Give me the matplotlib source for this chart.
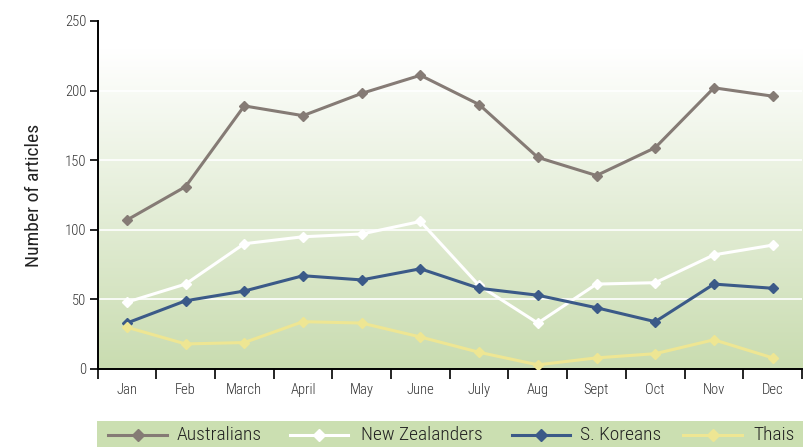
import numpy as np
import matplotlib
matplotlib.use("Agg")
import matplotlib.pyplot as plt
from matplotlib.patches import Rectangle
from matplotlib.lines import Line2D
from matplotlib import font_manager

months = ["Jan", "Feb", "March", "April", "May", "June", "July", "Aug", "Sept", "Oct", "Nov", "Dec"]
australians = [107, 131, 189, 182, 198, 211, 190, 152, 139, 159, 202, 196]
new_zealanders = [48, 61, 90, 95, 97, 106, 60, 33, 61, 62, 82, 89]
s_koreans = [33, 49, 56, 67, 64, 72, 58, 53, 44, 34, 61, 58]
thais = [30, 18, 19, 34, 33, 23, 12, 3, 8, 11, 21, 8]

series_names = ["Australians", "New Zealanders", "S. Koreans", "Thais"]
series_colors = ["#857b75", "#ffffff", "#3b5a88", "#eee693"]

# pick a condensed sans face if one is installed
names = {f.name for f in font_manager.fontManager.ttflist}
candidates = ["Roboto Condensed", "Archivo Narrow", "PT Sans Narrow", "Liberation Sans Narrow",
              "Fira Sans Condensed", "IBM Plex Sans Condensed", "Barlow Semi Condensed",
              "Encode Sans Condensed", "Asap Condensed", "Open Sans Condensed"]
family = [c for c in candidates if c in names][:1] or ["DejaVu Sans"]
plt.rcParams["font.family"] = family + ["DejaVu Sans"]
plt.rcParams["font.weight"] = "light"

W, H = 807, 447
fig = plt.figure(figsize=(W / 100, H / 100), dpi=100)
ax = fig.add_axes([97.5 / W, 1 - 369 / H, (802 - 97.5) / W, (369 - 21) / H])

# vertical white-to-green background
grad = np.linspace(0, 1, 256).reshape(-1, 1)
top = np.array([1.0, 1.0, 1.0])
bottom = np.array([0xc9, 0xdc, 0xb0]) / 255
curve = np.clip((grad - 0.08) / 0.92, 0, 1)
img = top + (bottom - top) * curve[..., None]
ax.imshow(img, extent=[0, 12, 0, 250], aspect="auto", origin="upper", zorder=0)

for v in [50, 100, 150, 200]:
    ax.axhline(v, color="white", lw=1.2, zorder=1)

x = np.arange(len(months)) + 0.5
all_series = [australians, new_zealanders, s_koreans, thais]
for vals, name, col in zip(all_series, series_names, series_colors):
    ax.plot(x, vals, color=col, lw=2.2, marker="D", ms=5, mec=col, mfc=col, label=name, zorder=3)

ax.set_xlim(0, 12)
ax.set_ylim(0, 250)
ax.set_yticks([0, 50, 100, 150, 200, 250])
ax.set_xticks(np.arange(13))
ax.set_xticklabels([])
ax.set_xticks(x, minor=True)
ax.set_xticklabels(months, minor=True)
ax.tick_params(axis="x", which="minor", length=0, pad=10, labelsize=10.5, colors="#333333")
ax.tick_params(axis="x", which="major", length=7, width=1.2, direction="out", color="black")
ax.tick_params(axis="y", length=6, width=1.2, labelsize=10.5, labelcolor="#333333", pad=2)
for s in ["top", "right"]:
    ax.spines[s].set_visible(False)
ax.spines["left"].set_linewidth(1.4)
ax.spines["bottom"].set_linewidth(1.4)
ax.set_ylabel("Number of articles", fontsize=14, color="#222222")
ax.yaxis.set_label_coords((43 - 97.5) / (802 - 97.5), 0.5)

# legend band along the bottom
fig.patches.append(Rectangle((97 / W, 0), (803 - 97) / W, 26 / H, transform=fig.transFigure,
                             facecolor="#cbdfb1", edgecolor="none", zorder=0))
handle_x = [(108, 167, 177), (290, 348, 361), (512, 570, 580), (683, 742, 753)]
ly = 1 - 435 / H
for (x0, x1, tx), name, col in zip(handle_x, series_names, series_colors):
    fig.add_artist(Line2D([x0 / W, x1 / W], [ly, ly], transform=fig.transFigure,
                          color=col, lw=2.2))
    fig.add_artist(Line2D([(x0 + x1) / 2 / W], [ly], transform=fig.transFigure,
                          marker="D", ms=6, color=col, mec=col, mfc=col, lw=0))
    fig.text(tx / W, ly, name, fontsize=14, color="#222222", va="center", ha="left")

fig.savefig("out.png", dpi=100)
